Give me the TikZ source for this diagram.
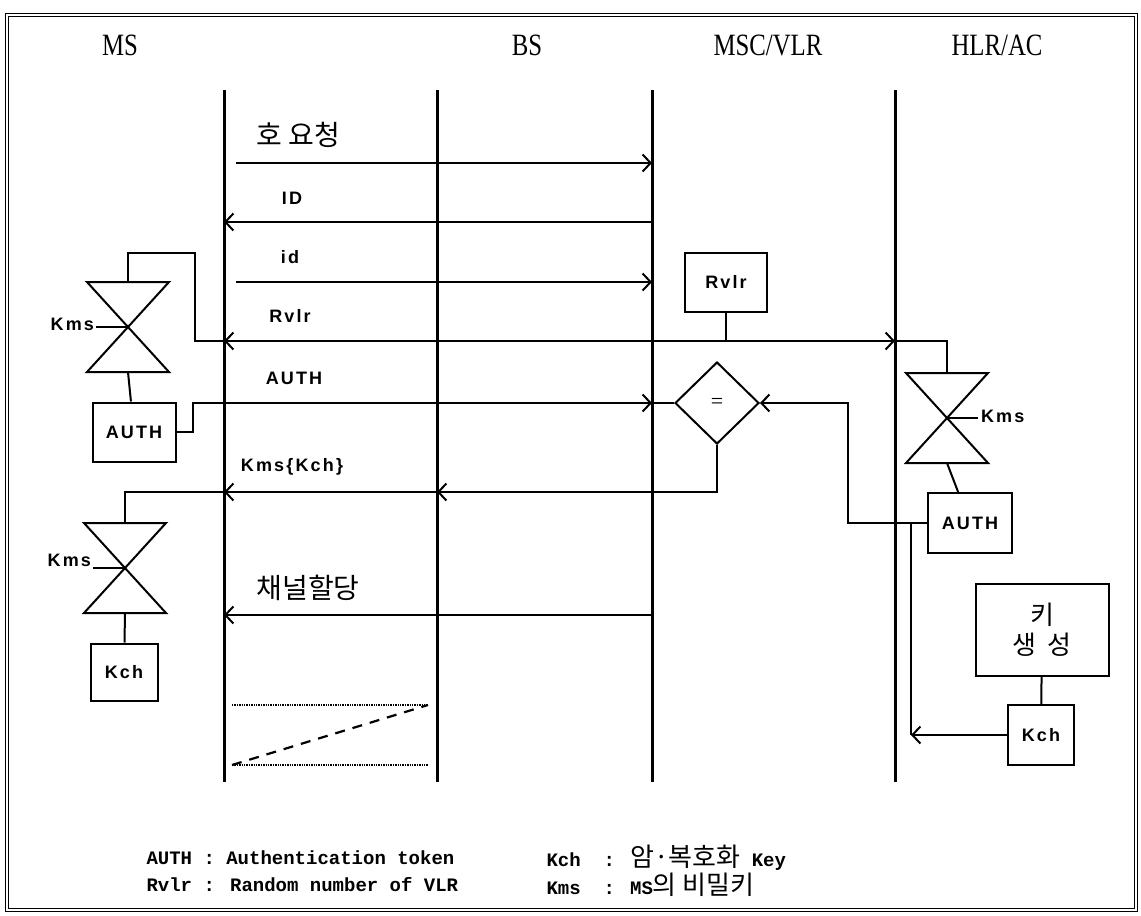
\documentclass[tikz,border=0pt]{standalone}
\usepackage{fontspec}
\setmainfont{Liberation Serif}
\newfontfamily\headfont[FakeStretch=0.8]{Liberation Serif}
\newfontfamily\lblfont[LetterSpace=12]{Liberation Sans}
\newfontfamily\krfont{Noto Sans CJK KR}
\newfontfamily\legfont{Liberation Mono}
\usetikzlibrary{arrows.meta,positioning,calc,shapes.geometric}

\begin{document}
\begin{tikzpicture}[x=1pt,y=-1pt,>={Straight Barb[length=8pt,width=17pt]},
  life/.style={line width=3pt},
  msg/.style={line width=2pt},
  head/.style={font=\headfont\fontsize{31}{34}\selectfont},
  lbl/.style={font=\lblfont\bfseries\fontsize{18}{21}\selectfont},
  kr/.style={font=\krfont\fontsize{28}{32}\selectfont},
  leg/.style={anchor=west,font=\legfont\bfseries\fontsize{19}{23}\selectfont},
  box/.style={draw,line width=2pt,inner sep=0pt,font=\lblfont\bfseries\fontsize{18}{21}\selectfont},
  hglass/.pic={
    \draw[line width=2pt] (-41,-45) -- (41,-45) -- (-41,45) -- (41,45) -- cycle;
    \coordinate (-top) at (0,-45);
    \coordinate (-bot) at (0,45);
    \coordinate (-c) at (0,0);
  }]
  \useasboundingbox (0,0) rectangle (1141,916);
  \draw[double,double distance=2pt,line width=1.2pt] (7,15) rectangle (1136,910);

  % entities and lifelines
  \node[head] (hms) at (120,45) {MS};
  \node[head] (hbs) at (527,45) {BS};
  \node[head] (hmsc) at (768,45) {MSC/VLR};
  \node[head] (hhlr) at (997,45) {HLR/AC};
  \foreach \n/\x in {ms/224,bs/437,msc/652,hlr/895} {
    \coordinate (\n) at (\x,90);
    \draw[life] (\n) -- ++(0,692);
  }
  \foreach \n/\y in {call/163,idu/222,idl/282,rv/341,au/403,kk/492,ch/615}
    \coordinate (\n) at (0,\y);

  % MS side
  \pic (hg1) at (128,327) {hglass};
  \pic (hg2) at (125,568) {hglass};
  \draw[msg] (hg1-c) -- ++(-32,0) node[lbl,left,inner sep=1pt,yshift=3pt] {Kms};
  \draw[msg] (hg2-c) -- ++(-32,0) node[lbl,left,inner sep=1pt,yshift=8pt] {Kms};
  \node[box,minimum width=83pt,minimum height=59pt] (authm) at (134,432) {AUTH};
  \node[box,minimum width=67pt,minimum height=57pt] (kchm) at (124,672) {Kch};
  \draw[msg] (hg1-bot) -- (authm);
  \draw[msg] (hg2-bot) -- (kchm);

  % MSC/VLR side
  \node[box,minimum width=82pt,minimum height=59pt] (rvlr) at (726,282) {Rvlr};
  \node[box,shape=diamond,minimum width=84pt,minimum height=82pt,font=\fontsize{22}{24}\selectfont] (eq) at (717,403) {=};

  % HLR/AC side
  \pic (hg3) at (947,418) {hglass};
  \draw[msg] (hg3-c) -- ++(31,0) node[lbl,right,inner sep=2pt,yshift=2pt] {Kms};
  \node[box,minimum width=84pt,minimum height=60pt] (authh) at (970,523) {AUTH};
  \node[box,minimum width=133pt,minimum height=92pt,align=center,font=\krfont\fontsize{26}{30}\selectfont] (keygen) at (1042,630) {키\\생\ \ 성};
  \node[box,minimum width=66pt,minimum height=60pt] (kchh) at (1041,735) {Kch};
  \coordinate (kj) at (911,523);
  \draw[msg] (hg3-bot) -- (authh);
  \draw[msg] (keygen) -- (kchh);

  % messages
  \draw[msg,->,shorten <=12pt] (ms|-call) -- (msc|-call);
  \node[kr] at (298,135) {호 요청};
  \draw[msg,->] (msc|-idu) -- (ms|-idu);
  \node[lbl] at (292,198) {ID};
  \draw[msg,->,shorten <=12pt] (ms|-idl) -- (msc|-idl);
  \node[lbl] at (290,257) {id};
  \draw[msg,<->] (ms|-rv) -- (hlr|-rv);
  \node[lbl] at (290,316) {Rvlr};
  \draw[msg] (hg1-top) |- ++(67,-29) |- (ms|-rv);
  \draw[msg] (rvlr) -- (rvlr|-rv);
  \draw[msg] (hlr|-rv) -| (hg3-top);
  \draw[msg,->] (authm.east) -- ++(16,0) |- (msc|-au);
  \draw[msg] (msc|-au) -- (eq.west);
  \node[lbl] at (294,378) {AUTH};
  \draw[msg,->] (authh.west) -- ++(-79,0) |- (eq.east);
  \draw[msg,->] (eq.south) |- (bs|-kk);
  \draw[msg,->] (bs|-kk) -- (ms|-kk);
  \draw[msg] (ms|-kk) -| (hg2-top);
  \node[lbl] at (292,467) {Kms\{Kch\}};
  \draw[msg,->] (msc|-ch) -- (ms|-ch);
  \node[kr] at (308,588) {채널할당};
  \draw[msg] (kj) -- (kj|-kchh.west);
  \draw[msg,->] (kchh.west) -- (kj|-kchh.west);

  % idle slot
  \coordinate (dtl) at (232,705);
  \coordinate (dtr) at (428,705);
  \coordinate (dbl) at (232,765);
  \coordinate (dbr) at (428,765);
  \draw[densely dotted,line width=1.4pt] (dtl) -- (dtr);
  \draw[densely dotted,line width=1.4pt] (dbl) -- (dbr);
  \draw[line width=2.2pt,dash pattern=on 10pt off 8pt] (dbl) -- (dtr);

  % legend
  \node[leg] (lg1) at (143,858) {AUTH : Authentication token};
  \node[leg] (lg2) at (143,885) {Rvlr : Random number of VLR};
  \node[leg] (lg3) at (543,858) {Kch~~: {\krfont\mdseries\fontsize{26}{28}\selectfont 암·복호화} Key};
  \node[leg] (lg4) at (543,885) {Kms~~: MS{\krfont\mdseries\fontsize{26}{28}\selectfont 의 비밀키}};
\end{tikzpicture}
\end{document}
